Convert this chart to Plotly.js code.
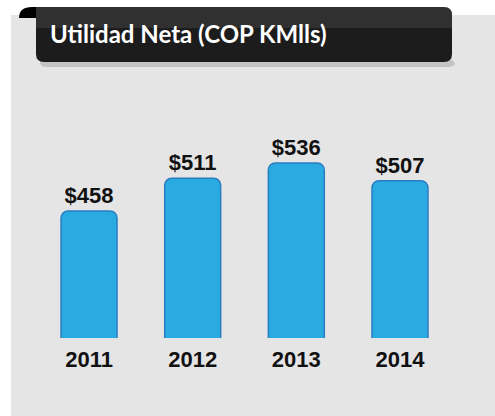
<!DOCTYPE html>
<html><head><meta charset="utf-8">
<script src="https://cdn.plot.ly/plotly-3.0.1.min.js"></script>
<style>html,body{margin:0;padding:0;background:#fff}#c{width:495px;height:416px}</style>
</head><body><div id="c"></div>
<script>
const years = ['2011', '2012', '2013', '2014'];
const values = [458, 511, 536, 507];
const titleText = 'Utilidad Neta (COP KMlls)';

const W = 495, H = 416;
const px = x => x / W, py = y => 1 - y / H;

const trace = {
  type: 'bar', x: years, y: values,
  width: 0.54,
  marker: {color: '#29abe2', line: {color: '#2b7cc0', width: 1.5}, cornerradius: 7},
  texttemplate: '$%{y}', textposition: 'outside', cliponaxis: true,
  textfont: {family: 'Liberation Sans, Arial', size: 22, color: '#111', weight: 'bold'},
  hoverinfo: 'skip'
};

const layout = {
  width: W, height: H, margin: {l: 0, r: 0, t: 0, b: 0},
  paper_bgcolor: '#ffffff', plot_bgcolor: 'rgba(0,0,0,0)',
  showlegend: false,
  xaxis: {domain: [37.2 / W, 451.8 / W], range: [-0.5, 3.5], type: 'category',
    showgrid: false, zeroline: false, showline: false, ticks: '',
    tickfont: {family: 'Liberation Sans, Arial', size: 22, color: '#111', weight: 'bold'},
    ticklabelstandoff: 6},
  yaxis: {domain: [py(338), py(100)], range: [252, 638], visible: false},
  shapes: [
    {type: 'rect', xref: 'paper', yref: 'paper', x0: px(11), x1: px(495), y0: py(416), y1: py(15),
      fillcolor: '#e5e5e5', line: {width: 0}, layer: 'below'},
    {type: 'path', xref: 'paper', yref: 'paper', layer: 'above',
      path: `M ${px(19)} ${py(18)} Q ${px(19)} ${py(7)} ${px(32)} ${py(7)} L ${px(40)} ${py(7)} L ${px(40)} ${py(18)} Z`,
      fillcolor: '#000', line: {width: 0}},
    {type: 'path', xref: 'paper', yref: 'paper', layer: 'above',
      path: `M ${px(40)} ${py(60)} L ${px(450)} ${py(60)} Q ${px(455)} ${py(60)} ${px(455)} ${py(65)} L ${px(450)} ${py(67)} L ${px(46)} ${py(67)} Q ${px(40)} ${py(67)} ${px(40)} ${py(62)} Z`,
      fillcolor: 'rgba(0,0,0,0.15)', line: {width: 0}},
    {type: 'path', xref: 'paper', yref: 'paper', layer: 'above',
      path: `M ${px(36)} ${py(7)} L ${px(444)} ${py(7)} Q ${px(452)} ${py(7)} ${px(452)} ${py(15)} L ${px(452)} ${py(54)} Q ${px(452)} ${py(62)} ${px(444)} ${py(62)} L ${px(44)} ${py(62)} Q ${px(36)} ${py(62)} ${px(36)} ${py(54)} Z`,
      fillcolor: '#1c1c1c', line: {width: 0}},
    {type: 'path', xref: 'paper', yref: 'paper', layer: 'above',
      path: `M ${px(36)} ${py(7)} L ${px(444)} ${py(7)} Q ${px(452)} ${py(7)} ${px(452)} ${py(15)} L ${px(452)} ${py(28)} L ${px(36)} ${py(28)} Z`,
      fillcolor: 'rgba(255,255,255,0.09)', line: {width: 0}}
  ],
  annotations: [
    {text: titleText, xref: 'paper', yref: 'paper', x: px(48), y: py(33), xanchor: 'left', yanchor: 'middle',
      showarrow: false, font: {family: 'Lato', size: 24, color: '#fff', weight: 'bold'}}
  ]
};

Plotly.newPlot('c', [trace], layout, {displayModeBar: false, staticPlot: true});
</script></body></html>
